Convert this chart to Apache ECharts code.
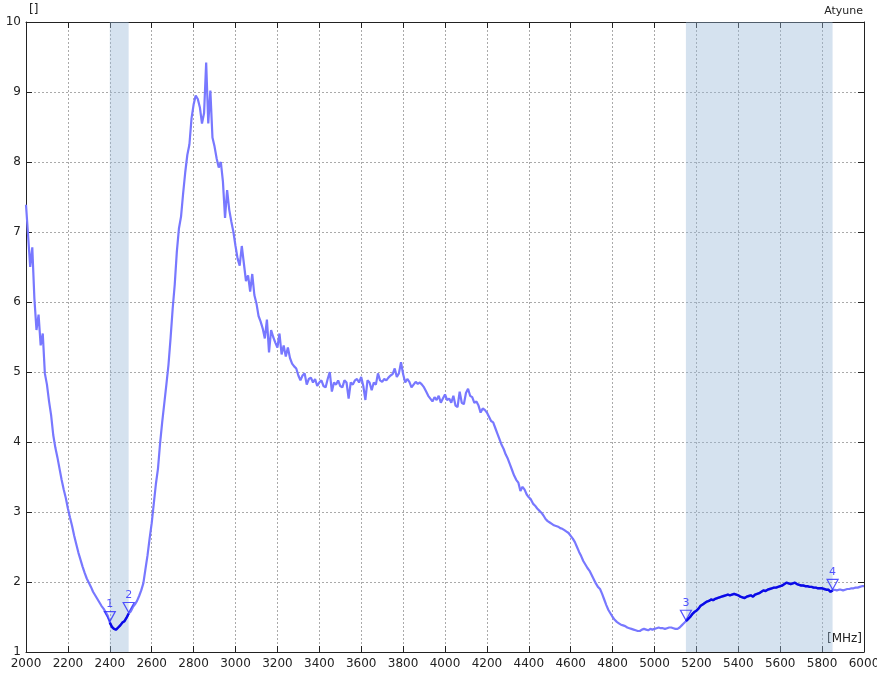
<!DOCTYPE html>
<html>
<head>
<meta charset="utf-8">
<script src="https://cdn.jsdelivr.net/npm/echarts@6/dist/echarts.min.js"></script>
<style>
html,body{margin:0;padding:0;background:#fff;}
#chart{width:877px;height:675px;}
</style>
</head>
<body>
<div id="chart"></div>
<script>
// Frequency sampling (MHz): start and step of the trace
const freqStart = 2000;
const freqStep = 10;
// Trace values, one per 10 MHz from 2000 to 6000
const vals = [
 7.39,6.95,6.50,6.78,6.05,5.60,5.82,5.38,5.55,4.98,
 4.82,4.58,4.38,4.10,3.92,3.78,3.62,3.46,3.32,3.20,
 3.05,2.92,2.80,2.66,2.54,2.42,2.32,2.22,2.13,2.05,
 1.99,1.93,1.86,1.81,1.76,1.71,1.66,1.62,1.57,1.52,
 1.42,1.36,1.33,1.32,1.35,1.38,1.42,1.44,1.49,1.55,
 1.58,1.64,1.68,1.73,1.80,1.88,1.98,2.18,2.38,2.62,
 2.84,3.12,3.40,3.62,3.98,4.28,4.55,4.82,5.10,5.48,
 5.90,6.25,6.72,7.05,7.22,7.55,7.85,8.10,8.25,8.62,
 8.82,8.95,8.90,8.78,8.55,8.70,9.42,8.55,9.02,8.35,
 8.22,8.05,7.92,8.00,7.72,7.20,7.60,7.32,7.15,7.00,
 6.80,6.62,6.52,6.80,6.55,6.30,6.38,6.15,6.40,6.10,
 5.98,5.80,5.72,5.62,5.48,5.75,5.28,5.60,5.50,5.42,
 5.35,5.55,5.25,5.38,5.22,5.35,5.20,5.12,5.08,5.05,
 4.95,4.88,4.95,4.98,4.82,4.90,4.92,4.85,4.90,4.80,
 4.85,4.88,4.80,4.78,4.90,5.00,4.72,4.85,4.82,4.88,
 4.80,4.78,4.88,4.85,4.62,4.85,4.82,4.88,4.90,4.85,
 4.93,4.80,4.60,4.88,4.85,4.74,4.85,4.82,4.98,4.88,
 4.86,4.90,4.88,4.92,4.95,4.97,5.05,4.93,4.98,5.14,
 4.97,4.85,4.90,4.86,4.78,4.82,4.86,4.83,4.85,4.82,
 4.78,4.72,4.66,4.62,4.58,4.64,4.60,4.66,4.56,4.62,
 4.68,4.60,4.62,4.56,4.66,4.52,4.50,4.72,4.56,4.54,
 4.70,4.76,4.66,4.64,4.56,4.58,4.52,4.42,4.48,4.46,
 4.42,4.36,4.30,4.28,4.20,4.12,4.04,3.96,3.90,3.82,
 3.76,3.68,3.60,3.52,3.46,3.42,3.30,3.36,3.32,3.25,
 3.21,3.18,3.12,3.09,3.05,3.02,2.99,2.95,2.90,2.87,
 2.85,2.83,2.81,2.80,2.79,2.77,2.76,2.74,2.72,2.70,
 2.66,2.62,2.57,2.50,2.43,2.37,2.30,2.25,2.20,2.16,
 2.10,2.04,1.98,1.93,1.90,1.83,1.75,1.67,1.60,1.55,
 1.50,1.46,1.43,1.41,1.39,1.38,1.37,1.35,1.34,1.33,
 1.32,1.31,1.30,1.30,1.32,1.33,1.32,1.31,1.33,1.32,
 1.33,1.34,1.35,1.34,1.34,1.33,1.34,1.35,1.35,1.34,
 1.33,1.33,1.35,1.38,1.41,1.44,1.47,1.50,1.54,1.57,
 1.59,1.62,1.66,1.68,1.70,1.72,1.73,1.75,1.74,1.76,
 1.77,1.78,1.79,1.80,1.81,1.82,1.81,1.82,1.83,1.82,
 1.81,1.79,1.78,1.77,1.79,1.80,1.81,1.79,1.82,1.83,
 1.84,1.86,1.88,1.87,1.89,1.90,1.91,1.92,1.92,1.93,
 1.94,1.95,1.97,1.99,1.98,1.97,1.98,1.99,1.97,1.96,
 1.95,1.95,1.94,1.94,1.93,1.93,1.92,1.92,1.91,1.91,
 1.91,1.90,1.89,1.89,1.86,1.88,1.89,1.88,1.89,1.89,
 1.88,1.89,1.90,1.90,1.91,1.91,1.92,1.92,1.93,1.94,
 1.94
];
// Highlighted bands (MHz)
const bands = [[2400, 2490], [5150, 5850]];
// Markers
const markerFreqs = [2400, 2490, 5150, 5850];
const markerLabels = ['1', '2', '3', '4'];
// Axes
const xMin = 2000, xMax = 6000, xInterval = 200;
const yMin = 1, yMax = 10, yInterval = 1;

const pts = vals.map((v, i) => [freqStart + i * freqStep, v]);
const valueAt = f => vals[Math.round((f - freqStart) / freqStep)];
const bandSeries = bands.map(b => ({
  type: 'line',
  data: pts.filter(p => p[0] >= b[0] && p[0] <= b[1]),
  showSymbol: false,
  lineStyle: { color: '#0a0ae6', width: 2.4 },
  z: 4,
  silent: true
}));

const font = 'DejaVu Sans, Verdana, sans-serif';
const axisLineStyle = { color: '#222', width: 1 };
const chart = echarts.init(document.getElementById('chart'), null, { renderer: 'canvas' });
chart.setOption({
  animation: false,
  backgroundColor: '#fff',
  grid: { left: 26, right: 13, top: 22, bottom: 23, containLabel: false, outerBoundsMode: 'none' },
  xAxis: [{
    type: 'value', min: xMin, max: xMax, interval: xInterval, position: 'bottom',
    axisLine: { show: true, lineStyle: axisLineStyle },
    axisTick: { show: true, inside: true, length: 6, lineStyle: axisLineStyle },
    axisLabel: { color: '#222', fontFamily: font, fontSize: 12, margin: 6, formatter: v => String(v) },
    splitLine: { show: true, lineStyle: { color: '#aaa', type: [2, 2], width: 1 } }
  }, {
    type: 'value', min: xMin, max: xMax, interval: xInterval, position: 'top',
    axisLine: { show: true, lineStyle: axisLineStyle },
    axisTick: { show: true, inside: true, length: 6, lineStyle: axisLineStyle },
    axisLabel: { show: false },
    splitLine: { show: false }
  }],
  yAxis: [{
    type: 'value', min: yMin, max: yMax, interval: yInterval, position: 'left',
    axisLine: { show: true, lineStyle: axisLineStyle },
    axisTick: { show: true, inside: true, length: 6, lineStyle: axisLineStyle },
    axisLabel: { color: '#222', fontFamily: font, fontSize: 12, margin: 5, formatter: v => String(v) },
    splitLine: { show: true, lineStyle: { color: '#aaa', type: [2, 2], width: 1 } }
  }, {
    type: 'value', min: yMin, max: yMax, interval: yInterval, position: 'right',
    axisLine: { show: true, lineStyle: axisLineStyle },
    axisTick: { show: true, inside: true, length: 6, lineStyle: axisLineStyle },
    axisLabel: { show: false },
    splitLine: { show: false }
  }],
  series: [{
    type: 'line',
    data: pts,
    showSymbol: false,
    lineStyle: { color: '#7878ff', width: 2.2 },
    z: 3,
    silent: true,
    markArea: {
      silent: true,
      itemStyle: { color: 'rgba(150,182,214,0.4)' },
      data: bands.map(b => [{ xAxis: b[0] }, { xAxis: b[1] }])
    }
  }].concat(bandSeries).concat([{
    type: 'scatter',
    data: markerFreqs.map((f, i) => ({ value: [f, valueAt(f)], name: markerLabels[i] })),
    symbol: 'triangle',
    symbolRotate: 180,
    symbolSize: [11, 10],
    symbolOffset: [0, -6],
    itemStyle: { color: 'rgba(255,255,255,0)', borderColor: '#2a2aff', borderWidth: 1.2 },
    label: { show: true, position: 'top', distance: 1, formatter: p => p.name, color: '#2a2aff', fontFamily: font, fontSize: 11 },
    z: 5,
    silent: true
  }]),
  graphic: [
    { type: 'text', left: 29, top: 4, style: { text: '[]', fill: '#222', font: '12px ' + font } },
    { type: 'text', right: 14, top: 6, style: { text: 'Atyune', fill: '#222', font: '11px ' + font } },
    { type: 'text', right: 15, top: 633, style: { text: '[MHz]', fill: '#222', font: '12px ' + font } }
  ]
});
</script>
</body>
</html>
